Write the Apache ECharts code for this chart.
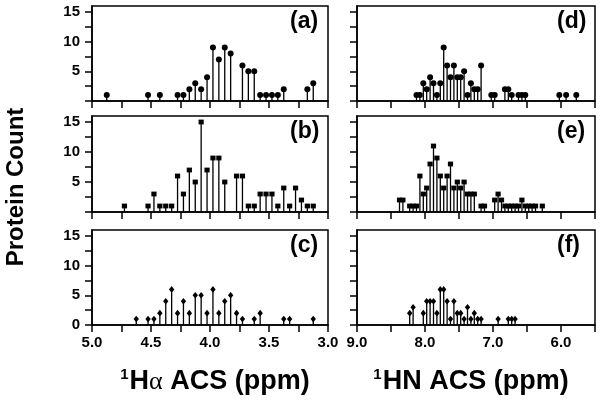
<!DOCTYPE html>
<html>
<head>
<meta charset="utf-8">
<script src="https://cdn.jsdelivr.net/npm/echarts@6/dist/echarts.min.js"></script>
<style>html,body{margin:0;padding:0;background:#fff}#c{width:601px;height:406px}</style>
</head>
<body>
<div id="c"></div>
<script>
// Panel (a) 1Hα
const aShift = [4.875,4.525,4.425,4.275,4.225,4.175,4.125,4.075,4.025,3.975,3.925,3.875,3.825,3.725,3.675,3.625,3.575,3.525,3.475,3.425,3.375,3.175,3.125];
const aCount = [1,1,1,1,1,2,3,2,4,9,7,9,8,6,5,5,1,1,1,1,2,2,3];
// Panel (b) 1Hα
const bShift = [4.725,4.525,4.475,4.425,4.375,4.325,4.275,4.225,4.175,4.125,4.075,4.025,3.975,3.925,3.875,3.775,3.725,3.675,3.625,3.575,3.525,3.475,3.425,3.375,3.325,3.275,3.225,3.175,3.125];
const bCount = [1,1,3,1,1,1,6,3,7,5,15,7,9,9,5,6,6,1,1,3,3,3,1,4,1,4,2,1,1];
// Panel (c) 1Hα
const cShift = [4.625,4.525,4.475,4.425,4.375,4.325,4.275,4.225,4.175,4.125,4.075,4.025,3.975,3.925,3.875,3.825,3.775,3.725,3.625,3.575,3.375,3.325,3.125];
const cCount = [1,1,1,2,4,6,2,4,2,5,5,2,6,2,4,5,2,1,1,2,1,1,1];
// Panel (d) 1HN
const dShift = [8.125,8.075,8.025,7.975,7.925,7.875,7.825,7.775,7.725,7.675,7.625,7.575,7.525,7.475,7.425,7.375,7.325,7.275,7.225,7.175,7.025,6.975,6.825,6.775,6.725,6.625,6.575,6.525,6.025,5.925,5.775];
const dCount = [1,1,3,2,4,3,1,3,9,6,4,6,4,4,5,1,3,2,2,6,1,1,2,2,1,1,1,1,1,1,1];
// Panel (e) 1HN
const eShift = [8.375,8.325,8.225,8.175,8.125,8.075,8.025,7.975,7.925,7.875,7.825,7.775,7.725,7.675,7.625,7.575,7.525,7.475,7.425,7.375,7.325,7.275,7.175,7.125,6.975,6.925,6.875,6.825,6.775,6.725,6.675,6.625,6.575,6.525,6.475,6.425,6.375,6.275];
const eCount = [2,2,1,1,1,6,3,4,8,11,9,6,4,6,8,4,5,4,5,3,3,3,1,1,2,3,2,1,1,1,1,1,2,1,1,1,1,1];
// Panel (f) 1HN
const fShift = [8.225,8.175,8.025,7.975,7.925,7.875,7.825,7.775,7.725,7.675,7.625,7.575,7.525,7.475,7.425,7.375,7.325,7.275,7.225,7.175,6.925,6.775,6.725,6.675];
const fCount = [2,3,2,4,4,4,2,6,6,4,1,4,2,2,1,3,1,2,1,1,1,1,1,1];

const panelLabels = ['(a)','(b)','(c)','(d)','(e)','(f)'];
const yTickValues = [0,2.5,5,7.5,10,12.5,15];
const haLabels = [5.0,4.5,4.0,3.5,3.0];
const hnLabels = [9.0,8.0,7.0,6.0];
const yTitle = 'Protein Count';

const FONT = 'Liberation Sans, Arial, sans-serif';
const chart = echarts.init(document.getElementById('c'), null, {renderer:'canvas'});

const grids = [
  {left:92, top:6, width:236, height:95},
  {left:92, top:116, width:236, height:96},
  {left:92, top:230, width:236, height:95},
  {left:357, top:6, width:238, height:95},
  {left:357, top:116, width:238, height:96},
  {left:357, top:230, width:238, height:95}
].map(g => Object.assign(g, {show:true, borderColor:'#000', borderWidth:1.5, backgroundColor:'transparent'}));

const panels = [
  [aShift,aCount,'circle'],[bShift,bCount,'square'],[cShift,cCount,'diamond'],
  [dShift,dCount,'circle'],[eShift,eCount,'square'],[fShift,fCount,'diamond']
];

function xAxisFor(i){
  const left = i < 3;
  const bottom = (i === 2 || i === 5);
  return {
    type:'value', gridIndex:i, inverse:true,
    min: left ? 3.0 : 5.5, max: left ? 5.0 : 9.0,
    interval: left ? 0.25 : 0.5,
    axisLine:{show:true, lineStyle:{color:'#000', width:1.5}},
    axisTick:{show:true, inside:false, length:7, lineStyle:{color:'#000', width:1.5}},
    splitLine:{show:false},
    axisLabel:{
      show: bottom, margin:10, color:'#000', fontFamily:FONT, fontWeight:'bold', fontSize:15,
      customValues: left ? haLabels : hnLabels,
      formatter: v => Number(v).toFixed(1)
    }
  };
}
function yAxisFor(i){
  const left = i < 3;
  return {
    type:'value', gridIndex:i, min:0, max:16,
    axisLine:{show:true, lineStyle:{color:'#000', width:1.5}},
    axisTick:{show:true, inside:false, length:7, customValues:yTickValues, lineStyle:{color:'#000', width:1.5}},
    splitLine:{show:false},
    axisLabel:{
      show:left, margin:12, color:'#000', fontFamily:FONT, fontWeight:'bold', fontSize:15,
      customValues: i === 2 ? [0,5,10,15] : [5,10,15]
    }
  };
}

function renderer(shape){
  return function(params, api){
    const x = api.value(0), y = api.value(1);
    const top = api.coord([x, y]);
    const base = api.coord([x, 0]);
    const cx = top[0], cy = top[1];
    let marker;
    if (shape === 'circle') {
      marker = {type:'circle', shape:{cx:cx, cy:cy, r:3}, style:{fill:'#000'}};
    } else if (shape === 'square') {
      marker = {type:'rect', shape:{x:cx-2.6, y:cy-2.4, width:5.2, height:4.8}, style:{fill:'#000'}};
    } else {
      marker = {type:'polygon', shape:{points:[[cx,cy-3.3],[cx+2.7,cy],[cx,cy+3.3],[cx-2.7,cy]]}, style:{fill:'#000'}};
    }
    return {type:'group', children:[
      {type:'line', shape:{x1:cx, y1:base[1], x2:cx, y2:cy}, style:{stroke:'#000', lineWidth:1.3}},
      marker
    ]};
  };
}

const series = panels.map((p, i) => ({
  type:'custom', xAxisIndex:i, yAxisIndex:i, clip:false,
  renderItem: renderer(p[2]),
  encode:{x:0, y:1},
  data: p[0].map((s, k) => [s, p[1][k]])
}));

const graphic = [];
grids.forEach((g, i) => {
  graphic.push({type:'text', left: g.left + g.width - 38, top: g.top + 4,
    style:{text:panelLabels[i], font:'bold 23px ' + FONT, fill:'#000'}});
});
graphic.push({type:'text', x:16, y:187, rotation:Math.PI/2,
  style:{text:yTitle, font:'bold 24px ' + FONT, fill:'#000', textAlign:'center', textVerticalAlign:'middle'}});

function axisTitle(cx, main){
  return {type:'text', x:cx, y:367,
    style:{
      text:'{s|1}{b|H}' + main,
      textAlign:'center', fill:'#000',
      rich:{
        s:{font:'bold 15px ' + FONT, fill:'#000', verticalAlign:'top', lineHeight:30, padding:[0,1,14,0]},
        b:{font:'bold 27px ' + FONT, fill:'#000', lineHeight:30},
        g:{font:'26px "Liberation Serif", "Times New Roman", serif', fill:'#000', lineHeight:30}
      }
    }};
}
graphic.push(axisTitle(215, '{g|α}{b| ACS (ppm)}'));
graphic.push(axisTitle(471, '{b|N ACS (ppm)}'));

chart.setOption({
  animation:false,
  backgroundColor:'#fff',
  grid: grids,
  xAxis: grids.map((g, i) => xAxisFor(i)),
  yAxis: grids.map((g, i) => yAxisFor(i)),
  series: series,
  graphic: graphic
});
</script>
</body>
</html>
